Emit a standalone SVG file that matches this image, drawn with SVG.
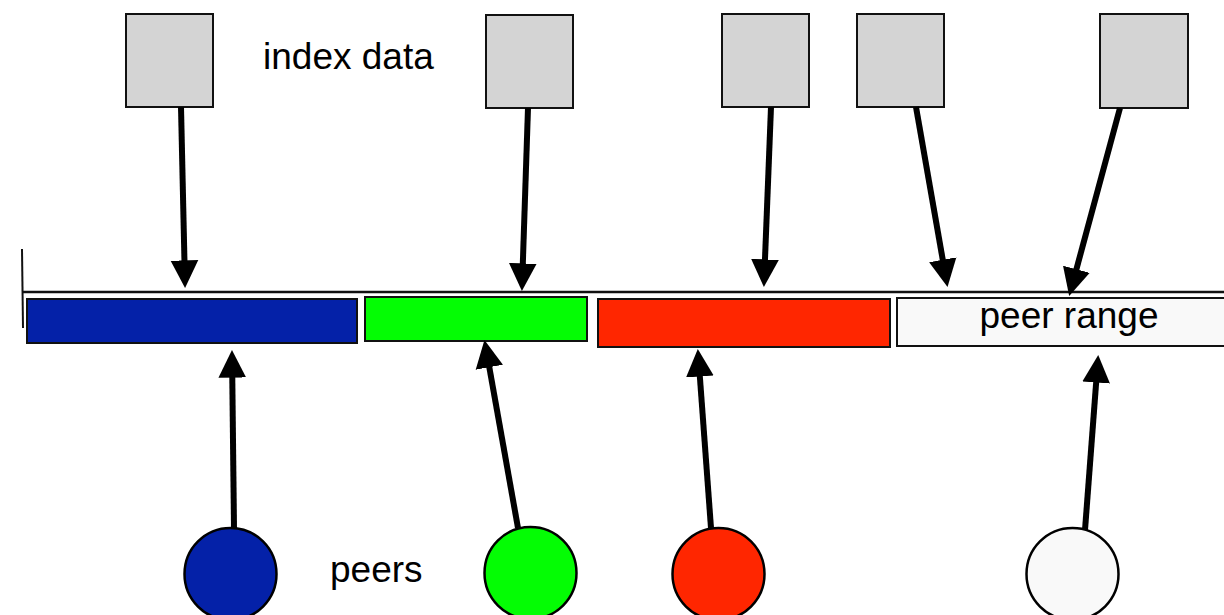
<svg xmlns="http://www.w3.org/2000/svg" width="1224" height="615" viewBox="0 0 1224 615">
  <style>
    .box { fill: #d4d4d4; stroke: #111; stroke-width: 2; }
    .seg { stroke: #111; stroke-width: 2; }
    .peer { stroke: #000; stroke-width: 2.5; }
    .lbl { font-family: "Liberation Sans", Arial, sans-serif; font-size: 37px; fill: #000; }
    .conn { stroke: #000; stroke-width: 6; fill: none; marker-end: url(#head); }
  </style>
  <defs>
    <marker id="head" markerUnits="userSpaceOnUse" markerWidth="30" markerHeight="30" viewBox="0 -13 26 26" refX="4" refY="0" orient="auto">
      <path d="M0,-12 L24,0 L0,12 z" fill="#000"/>
    </marker>
  </defs>
  <rect width="1224" height="615" fill="#fff"/>

  <g id="axis">
    <line x1="22" y1="249" x2="23" y2="328" stroke="#111" stroke-width="2"/>
    <line x1="23" y1="292" x2="1224" y2="292" stroke="#111" stroke-width="2.5"/>
  </g>

  <g id="seg-blue"><rect class="seg" x="27" y="299" width="330" height="44" fill="#0421a8"/></g>
  <g id="seg-green"><rect class="seg" x="365" y="297" width="222" height="44" fill="#04fd04"/></g>
  <g id="seg-red"><rect class="seg" x="598" y="299" width="292" height="48" fill="#ff2600"/></g>
  <g id="seg-white">
    <rect class="seg" x="897" y="298" width="330" height="48" fill="#f9f9f9"/>
    <text class="lbl" x="1069" y="328" text-anchor="middle">peer range</text>
  </g>

  <g id="data1"><rect class="box" x="126" y="14" width="87" height="93"/></g>
  <g id="data2"><rect class="box" x="486" y="15" width="87" height="93"/></g>
  <g id="data3"><rect class="box" x="722" y="14" width="87" height="93"/></g>
  <g id="data4"><rect class="box" x="857" y="14" width="87" height="93"/></g>
  <g id="data5"><rect class="box" x="1100" y="14" width="88" height="94"/></g>
  <g id="label-index"><text class="lbl" x="263" y="69">index data</text></g>

  <g id="peer1"><circle class="peer" cx="230.5" cy="574" r="46" fill="#0421a8"/></g>
  <g id="peer2"><circle class="peer" cx="530.5" cy="573" r="46" fill="#04fd04"/></g>
  <g id="peer3"><circle class="peer" cx="718.5" cy="574" r="46" fill="#ff2600"/></g>
  <g id="peer4"><circle class="peer" cx="1072.5" cy="574" r="46" fill="#f9f9f9"/></g>
  <g id="label-peers"><text class="lbl" x="330" y="582">peers</text></g>

  <g id="connectors">
    <line class="conn" x1="181" y1="107" x2="184.55" y2="265"/>
    <line class="conn" x1="528" y1="108" x2="522.67" y2="268"/>
    <line class="conn" x1="771" y1="107" x2="764.79" y2="264"/>
    <line class="conn" x1="916" y1="107" x2="943.55" y2="264.3"/>
    <line class="conn" x1="1120" y1="108" x2="1075.2" y2="273.7"/>
    <line class="conn" x1="234" y1="528" x2="232.23" y2="373"/>
    <line class="conn" x1="518" y1="528" x2="488.5" y2="362.7"/>
    <line class="conn" x1="711" y1="528" x2="699.5" y2="371.9"/>
    <line class="conn" x1="1085" y1="530" x2="1096.5" y2="377.9"/>
  </g>
</svg>
